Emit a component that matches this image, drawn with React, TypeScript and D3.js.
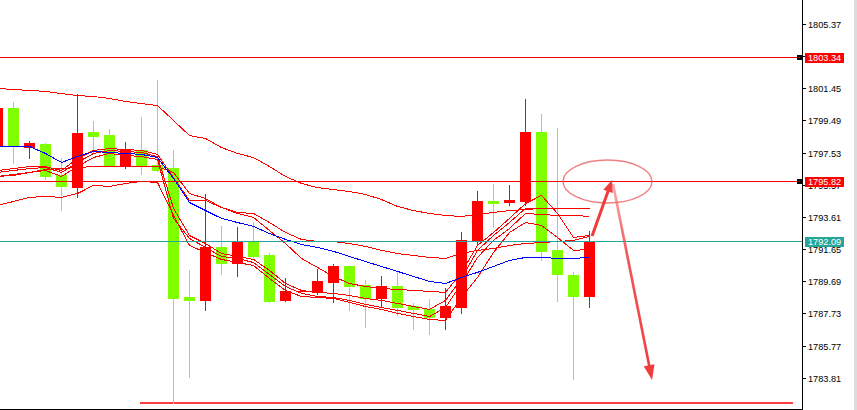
import React from 'react';
import * as d3 from 'd3';

const W = 857;
const H = 410;

// bar index -1 .. 36
const barIndex = d3.range(-1, 37);
const opens = [1797.99, 1800.25, 1797.87, 1798.06, 1796.17, 1795.43, 1798.79, 1798.60, 1796.78, 1797.69, 1796.78, 1796.59, 1788.73, 1788.55, 1791.78, 1790.80, 1792.14, 1791.29, 1788.55, 1789.10, 1789.04, 1789.65, 1790.62, 1789.46, 1788.67, 1789.40, 1788.18, 1788.00, 1787.51, 1788.12, 1792.14, 1794.58, 1794.52, 1794.58, 1798.79, 1791.60, 1790.07, 1788.79];
const highs = [1800.61, 1800.61, 1798.24, 1798.12, 1797.20, 1801.10, 1799.46, 1798.97, 1798.18, 1799.70, 1801.96, 1797.69, 1790.38, 1795.01, 1793.06, 1793.00, 1793.30, 1791.41, 1789.89, 1789.10, 1790.44, 1790.74, 1790.62, 1789.77, 1790.01, 1790.32, 1788.37, 1788.61, 1789.28, 1792.69, 1795.19, 1795.62, 1795.56, 1800.80, 1799.88, 1799.03, 1790.26, 1792.75];
const lows = [1797.69, 1796.90, 1797.20, 1795.92, 1794.03, 1794.83, 1797.51, 1796.71, 1796.59, 1796.23, 1796.41, 1782.27, 1783.86, 1787.94, 1790.13, 1790.01, 1791.05, 1788.43, 1788.49, 1789.10, 1788.91, 1788.43, 1787.94, 1786.90, 1788.12, 1787.64, 1786.78, 1786.48, 1786.78, 1787.76, 1791.96, 1793.00, 1794.34, 1794.34, 1790.99, 1788.49, 1783.73, 1788.12];
const closes = [1800.25, 1797.93, 1798.12, 1796.11, 1795.50, 1798.73, 1798.54, 1796.78, 1797.75, 1796.78, 1796.47, 1788.67, 1788.55, 1791.78, 1790.80, 1792.14, 1791.23, 1788.49, 1789.10, 1789.10, 1789.71, 1790.62, 1789.40, 1788.67, 1789.40, 1788.12, 1788.00, 1787.51, 1788.18, 1792.21, 1794.58, 1794.46, 1794.64, 1798.79, 1791.54, 1790.13, 1788.79, 1792.14];

// indicator lines
const upperBand = [1801.47, 1801.41, 1801.35, 1801.29, 1801.16, 1801.04, 1800.98, 1800.86, 1800.68, 1800.55, 1800.43, 1799.52, 1798.60, 1798.42, 1797.87, 1797.51, 1797.26, 1796.71, 1796.11, 1795.68, 1795.43, 1795.31, 1795.19, 1795.01, 1794.70, 1794.28, 1794.03, 1793.85, 1793.73, 1793.67, 1793.79, 1793.91, 1794.03, 1794.09, 1794.16, 1794.16, 1794.16, 1794.16];
const upperInner = [1796.11, 1796.17, 1796.35, 1796.53, 1796.59, 1796.65, 1796.71, 1796.71, 1796.71, 1796.71, 1796.71, 1796.35, 1795.07, 1794.76, 1794.22, 1793.91, 1793.85, 1793.30, 1792.69, 1792.27, 1792.14, 1792.14, 1792.02, 1791.84, 1791.60, 1791.41, 1791.29, 1791.17, 1791.11, 1791.41, 1791.60, 1791.72, 1791.90, 1792.02, 1792.08, 1792.14, 1792.21, 1792.45];
const maBlue = [1797.93, 1797.93, 1797.93, 1797.51, 1796.96, 1797.32, 1797.63, 1797.57, 1797.51, 1797.45, 1797.26, 1795.98, 1794.52, 1794.03, 1793.55, 1793.30, 1793.06, 1792.63, 1792.27, 1791.96, 1791.78, 1791.54, 1791.23, 1790.92, 1790.62, 1790.32, 1790.01, 1789.71, 1789.58, 1789.95, 1790.26, 1790.62, 1790.99, 1791.17, 1791.17, 1791.11, 1791.11, 1791.17];
const lineC = [1796.47, 1796.59, 1796.71, 1796.71, 1796.47, 1797.20, 1797.69, 1797.81, 1797.75, 1797.69, 1797.45, 1796.04, 1794.64, 1794.64, 1794.22, 1793.85, 1793.61, 1792.81, 1792.02, 1791.11, 1790.56, 1790.01, 1789.58, 1789.40, 1789.28, 1789.22, 1789.16, 1789.10, 1789.04, 1790.26, 1791.90, 1792.69, 1793.55, 1794.46, 1794.95, 1793.85, 1792.39, 1792.51];
const lineE1 = [1796.35, 1796.47, 1796.59, 1796.65, 1796.35, 1796.96, 1797.51, 1797.69, 1797.63, 1797.57, 1797.32, 1794.16, 1792.51, 1792.02, 1791.41, 1791.23, 1791.05, 1790.38, 1789.58, 1789.16, 1789.04, 1788.98, 1788.85, 1788.67, 1788.55, 1788.37, 1788.18, 1788.00, 1788.55, 1789.89, 1791.60, 1792.51, 1793.30, 1794.16, 1794.16, 1794.16, 1794.16, 1794.16];
const lineE2 = [1796.11, 1796.23, 1796.35, 1796.47, 1796.11, 1796.71, 1797.26, 1797.51, 1797.39, 1797.32, 1797.14, 1793.55, 1792.33, 1791.78, 1791.23, 1791.11, 1790.86, 1790.13, 1789.40, 1788.98, 1788.79, 1788.73, 1788.55, 1788.31, 1788.12, 1787.94, 1787.76, 1787.57, 1788.12, 1789.58, 1791.17, 1792.21, 1792.94, 1793.85, 1793.79, 1793.73, 1793.73, 1793.67];
const lowerBand = [1794.34, 1794.58, 1794.83, 1794.89, 1794.83, 1795.07, 1795.56, 1795.50, 1795.68, 1795.80, 1795.74, 1793.73, 1791.90, 1791.47, 1791.05, 1790.86, 1790.68, 1789.89, 1789.16, 1788.79, 1788.73, 1788.67, 1788.43, 1788.18, 1788.00, 1787.76, 1787.57, 1787.39, 1787.33, 1788.73, 1789.95, 1791.47, 1792.69, 1793.30, 1793.12, 1792.39, 1791.60, 1791.66];

const axisTicks = [1805.37, 1803.41, 1801.45, 1799.49, 1797.53, 1795.57, 1793.61, 1791.65, 1789.69, 1787.73, 1785.77, 1783.81];
const levelLines = [1803.34, 1795.82];
const bidPrice = 1792.09;
const floorLevel = 1782.27;
const floorSpan = [7.9, 48.7];

// hand-drawn annotations (bar index, price)
const arrowUp = [[36.16, 1792.48], [37.41, 1795.89]];
const arrowDown = [[37.47, 1795.65], [39.91, 1783.7]];
const ellipseCenter = [37.125, 1795.8];
const ellipseRadius = [2.78, 1.31];

const RED = '#ff0000';
const GREEN = '#7fff00';
const TEAL = '#26a69a';

const x = d3.scaleLinear().domain([0, 36]).range([13.5, 589.5]);
const y = d3.scaleLinear().domain([1805.37, 1783.81]).range([24.5, 378.19]);

const plotRight = 802;

function arrowHead(x1: number, y1: number, x2: number, y2: number, len: number, half: number) {
  const dx = x2 - x1, dy = y2 - y1;
  const L = Math.hypot(dx, dy);
  const ux = dx / L, uy = dy / L;
  const bx = x2 - ux * len, by = y2 - uy * len;
  const px = -uy, py = ux;
  return {
    pts: `${x2},${y2} ${bx + px * half},${by + py * half} ${bx - px * half},${by - py * half}`,
    bx: x2 - ux * (len - 2),
    by: y2 - uy * (len - 2),
  };
}

export default function App() {
  const lineGen = d3
    .line<number>()
    .x((_, i) => x(barIndex[i]))
    .y((d) => y(d));

  const redLines = [upperBand, upperInner, lineC, lineE1, lineE2, lowerBand];

  const a1 = arrowUp.map(([i, p]) => [x(i), y(p)]);
  const a2 = arrowDown.map(([i, p]) => [x(i), y(p)]);
  const h1 = arrowHead(a1[0][0], a1[0][1], a1[1][0], a1[1][1], 12, 5);
  const h2 = arrowHead(a2[0][0], a2[0][1], a2[1][0], a2[1][1], 15, 5.5);

  const ecx = x(ellipseCenter[0]);
  const ecy = y(ellipseCenter[1]);
  const erx = x(ellipseCenter[0] + ellipseRadius[0]) - ecx;
  const ery = y(ellipseCenter[1] - ellipseRadius[1]) - ecy;

  return (
    <div style={{ position: 'fixed', left: 0, top: 0 }}>
      <svg width={W} height={H} style={{ display: 'block', background: '#fff' }}>
        <defs>
          <clipPath id="plot">
            <rect x={0} y={0} width={plotRight} height={409} />
          </clipPath>
          <linearGradient id="downGrad" gradientUnits="userSpaceOnUse" x1={a2[0][0]} y1={a2[0][1]} x2={a2[1][0]} y2={a2[1][1]}>
            <stop offset="0" stopColor="#f06a6a" stopOpacity={0.55} />
            <stop offset="0.35" stopColor="#f04444" stopOpacity={0.9} />
            <stop offset="1" stopColor="#f03a3a" stopOpacity={1} />
          </linearGradient>
        </defs>
        <rect x={0} y={0} width={W} height={H} fill="#fff" />
        <g clipPath="url(#plot)">
          {/* floor line */}
          <line
            x1={x(floorSpan[0])}
            x2={x(floorSpan[1])}
            y1={Math.round(y(floorLevel))}
            y2={Math.round(y(floorLevel))}
            stroke="#ff4040"
            strokeWidth={2}
            shapeRendering="crispEdges"
          />
          {/* candles */}
          {barIndex.map((bi, k) => {
            const o = opens[k], c = closes[k], h = highs[k], l = lows[k];
            const col = c >= o ? RED : GREEN;
            const cx = x(bi);
            const top = Math.round(y(Math.max(o, c)) - 0.5);
            const bot = Math.round(y(Math.min(o, c)) - 0.5);
            const wt = Math.round(y(h) - 0.5);
            const wb = Math.round(y(l) - 0.5);
            return (
              <g key={k} shapeRendering="crispEdges">
                <rect x={Math.floor(cx)} y={wt} width={1} height={wb - wt + 1} fill={col} />
                <rect x={cx - 5.5} y={top} width={11} height={bot - top + 1} fill={col} />
              </g>
            );
          })}
          {/* indicator lines */}
          {redLines.map((arr, k) => (
            <path key={k} d={lineGen(arr) || ''} fill="none" stroke={RED} strokeWidth={1} shapeRendering="crispEdges" />
          ))}
          <path d={lineGen(maBlue) || ''} fill="none" stroke="#0000ff" strokeWidth={1} shapeRendering="crispEdges" />
          {/* level lines */}
          {levelLines.map((p, k) => (
            <rect key={k} x={0} width={plotRight} y={Math.floor(y(p))} height={1} fill={RED} shapeRendering="crispEdges" />
          ))}
          <rect x={0} width={plotRight} y={Math.floor(y(bidPrice)) - 1} height={1} fill={TEAL} shapeRendering="crispEdges" />
          {/* annotations */}
          <ellipse cx={ecx} cy={ecy} rx={erx} ry={ery} fill="none" stroke="#ee6a6a" strokeOpacity={0.85} strokeWidth={1.4} />
          <line x1={a1[0][0]} y1={a1[0][1]} x2={h1.bx} y2={h1.by} stroke="#f03c3c" strokeWidth={3} />
          <polygon points={h1.pts} fill="#f03c3c" />
          <line x1={a2[0][0]} y1={a2[0][1]} x2={h2.bx} y2={h2.by} stroke="url(#downGrad)" strokeWidth={2.6} />
          <polygon points={h2.pts} fill="#f03c3c" />
        </g>
        {/* frame */}
        <rect x={plotRight} y={0} width={1} height={410} fill="#000" shapeRendering="crispEdges" />
        <rect x={0} y={409} width={plotRight + 1} height={1} fill="#000" shapeRendering="crispEdges" />
        <rect x={854} y={0} width={3} height={H} fill="#dcdcdc" />
        {/* axis */}
        {axisTicks.map((t, k) => {
          const ty = Math.floor(y(t));
          return (
            <g key={k}>
              <rect x={plotRight} y={ty} width={4} height={1} fill="#000" shapeRendering="crispEdges" />
              <text x={808} y={ty + 3.8} fontFamily="'Liberation Sans', Arial, sans-serif" fontSize={9.2} fill="#000">
                {t.toFixed(2)}
              </text>
            </g>
          );
        })}
        {/* price labels */}
        {levelLines.map((p, k) => {
          const ty = Math.floor(y(p)) + 0.5;
          return (
            <g key={k}>
              <rect x={797} y={ty - 2.5} width={5} height={5} fill="#000" shapeRendering="crispEdges" />
              <rect x={799} y={ty - 0.5} width={1} height={1} fill={RED} shapeRendering="crispEdges" />
              <rect x={805} y={ty - 5} width={39} height={10} fill={RED} shapeRendering="crispEdges" />
              <text x={808} y={ty + 3.3} fontFamily="'Liberation Sans', Arial, sans-serif" fontSize={9.2} fill="#fff">
                {p.toFixed(2)}
              </text>
            </g>
          );
        })}
        {(() => {
          const ty = Math.floor(y(bidPrice)) - 0.5;
          return (
            <g>
              <rect x={805} y={ty - 5} width={39} height={10} fill={TEAL} shapeRendering="crispEdges" />
              <text x={808} y={ty + 3.3} fontFamily="'Liberation Sans', Arial, sans-serif" fontSize={9.2} fill="#fff">
                {bidPrice.toFixed(2)}
              </text>
            </g>
          );
        })()}
      </svg>
    </div>
  );
}
